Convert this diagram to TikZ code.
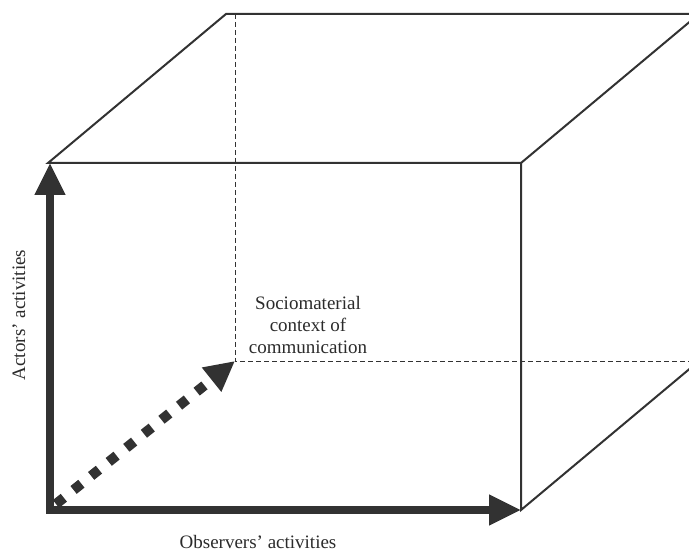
\documentclass[tikz,border=0pt]{standalone}
\usepackage{fontspec}
\setmainfont{Liberation Serif}
\usetikzlibrary{positioning,arrows.meta}
\definecolor{inkgray}{RGB}{50,50,50}

\begin{document}
\begin{tikzpicture}[x=1pt, y=-1pt,
  edge/.style={inkgray, line width=2pt, line join=miter},
  hidden/.style={inkgray, line width=0.8pt, dash pattern=on 5pt off 3pt},
  axis/.style={inkgray, line width=7.5pt, -{Triangle[length=32pt, width=29pt]}},
  depth/.style={inkgray, line width=10pt, dash pattern=on 10pt off 12.5pt, -{Triangle[length=30pt, width=29pt]}},
  caption/.style={font=\fontsize{19}{22}\selectfont, align=center, inner sep=0pt, text=inkgray!85!black}
]
\useasboundingbox (0,0) rectangle (689,553);

% cube corners
\coordinate (ftl) at (48,163);
\coordinate (ftr) at (521,163);
\coordinate (fbr) at (521,510);
\coordinate (fbl) at (50,510);
\coordinate (btl) at (226,14);
\coordinate (btr) at (699,14);
\coordinate (bbr) at (699,361);
\coordinate (bbl) at (235,361);
\coordinate (bdash) at (235,14);

% hidden edges
\draw[hidden] (bdash) -- (bbl) -- (bbr);

% visible edges
\draw[edge] (ftl) -- (btl) -- (btr) -- (ftr) -- cycle;
\draw[edge] (ftr) -- (fbr) -- (bbr);

% axes
\draw[depth] (56,504) -- (bbl);
\draw[axis] (fbl) -- (50,163);
\draw[axis] (46,510) -- (fbr);

% labels
\node[caption] (ctx) at (308,325) {Sociomaterial\\context of\\communication};
\node[caption, anchor=base] (obs) at (258,548) {Observers' activities};
\node[caption, rotate=90, anchor=base] (act) at (25,315) {Actors' activities};
\end{tikzpicture}
\end{document}
